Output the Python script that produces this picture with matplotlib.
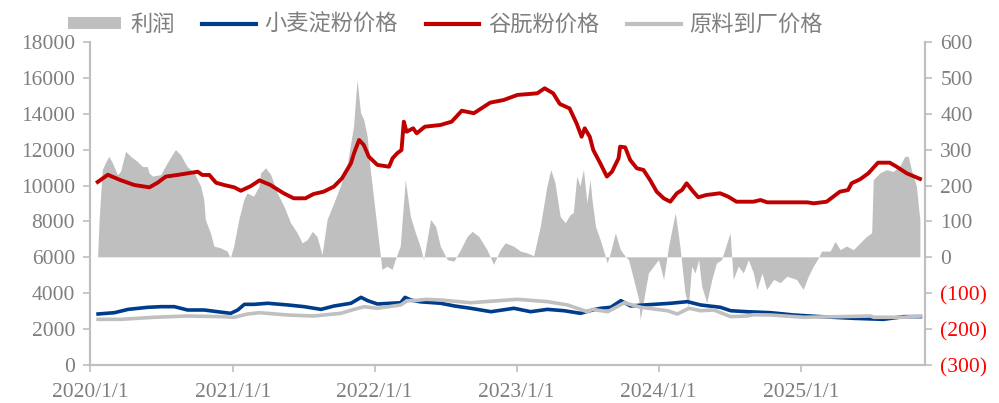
import pandas as pd
import matplotlib
matplotlib.use("Agg")
from matplotlib import pyplot as plt
from matplotlib.patches import Patch
from matplotlib.lines import Line2D

# 利润（右轴）
profit_dates = [
    "2020-01-21", "2020-01-25", "2020-02-02", "2020-02-10", "2020-02-19", "2020-02-28", "2020-03-12",
    "2020-03-20", "2020-04-02", "2020-04-15", "2020-05-02", "2020-05-15", "2020-05-28", "2020-06-01",
    "2020-06-10", "2020-07-01", "2020-07-18", "2020-08-08", "2020-08-21", "2020-09-07", "2020-09-25",
    "2020-10-12", "2020-10-20", "2020-10-24", "2020-11-06", "2020-11-15", "2020-12-02", "2020-12-19",
    "2020-12-27", "2021-01-05", "2021-01-18", "2021-01-31", "2021-02-08", "2021-02-25", "2021-03-11",
    "2021-03-15", "2021-03-28", "2021-04-10", "2021-04-27", "2021-05-14", "2021-05-31", "2021-06-17",
    "2021-06-30", "2021-07-13", "2021-07-26", "2021-08-07", "2021-08-20", "2021-09-02", "2021-09-19",
    "2021-10-06", "2021-10-23", "2021-11-09", "2021-11-18", "2021-11-27", "2021-12-05", "2021-12-14",
    "2021-12-22", "2021-12-31", "2022-01-13", "2022-01-21", "2022-02-03", "2022-02-16", "2022-02-24",
    "2022-03-09", "2022-03-22", "2022-04-04", "2022-04-17", "2022-04-29", "2022-05-08", "2022-05-26",
    "2022-06-08", "2022-06-20", "2022-07-08", "2022-07-25", "2022-08-11", "2022-08-28", "2022-09-10",
    "2022-09-27", "2022-10-18", "2022-11-04", "2022-11-21", "2022-12-04", "2022-12-25", "2023-01-12",
    "2023-01-29", "2023-02-15", "2023-03-04", "2023-03-21", "2023-03-31", "2023-04-11", "2023-04-24",
    "2023-05-07", "2023-05-20", "2023-05-28", "2023-06-06", "2023-06-14", "2023-06-23", "2023-07-02",
    "2023-07-10", "2023-07-15", "2023-07-24", "2023-08-05", "2023-08-18", "2023-08-23", "2023-08-31",
    "2023-09-13", "2023-09-26", "2023-10-08", "2023-10-17", "2023-10-30", "2023-11-12", "2023-11-16",
    "2023-11-25", "2023-12-07", "2023-12-20", "2024-01-02", "2024-01-15", "2024-01-28", "2024-02-14",
    "2024-02-26", "2024-03-10", "2024-03-19", "2024-03-27", "2024-04-05", "2024-04-14", "2024-04-22",
    "2024-05-05", "2024-05-18", "2024-05-30", "2024-06-12", "2024-07-04", "2024-07-12", "2024-07-25",
    "2024-08-07", "2024-08-20", "2024-09-02", "2024-09-11", "2024-09-24", "2024-10-06", "2024-10-24",
    "2024-11-10", "2024-11-27", "2024-12-22", "2025-01-08", "2025-01-21", "2025-02-03", "2025-02-16",
    "2025-02-24", "2025-03-18", "2025-03-31", "2025-04-13", "2025-04-29", "2025-05-17", "2025-06-03",
    "2025-06-20", "2025-07-03", "2025-07-07", "2025-07-24", "2025-08-10", "2025-08-27", "2025-09-13",
    "2025-09-26", "2025-10-05", "2025-10-13", "2025-10-26", "2025-11-01", "2025-11-04",
]
profit = [
    0, 104, 243, 262, 280, 262, 229,
    238, 294, 280, 266, 252, 251, 234,
    225, 229, 262, 299, 285, 252, 234,
    197, 160, 104, 67, 30, 25, 16,
    -3, 30, 104, 160, 178, 169, 197,
    234, 248, 229, 178, 141, 95, 67,
    39, 48, 71, 57, 6, 104, 150,
    197, 252, 364, 494, 401, 383, 336,
    243, 160, 39, -35, -26, -35, -8,
    30, 215, 113, 67, 30, -8, 104,
    85, 30, -8, -12, 20, 57, 71,
    57, 20, -21, 20, 39, 30, 16,
    11, 3, 85, 197, 243, 206, 113,
    95, 118, 123, 225, 197, 243, 150,
    215, 160, 85, 48, 2, -17, 11,
    67, 20, 2, -8, -63, -119, -175,
    -119, -45, -26, -8, -63, 30, 123,
    30, -100, -138, -26, -45, -8, -82,
    -128, -63, -17, -8, 67, -63, -26,
    -45, -8, -45, -91, -45, -91, -63,
    -72, -54, -63, -91, -54, -26, -3,
    16, 16, 43, 20, 30, 20, 39,
    57, 67, 215, 234, 243, 238, 252,
    280, 280, 243, 197, 132, 104,
]

# 谷朊粉价格
gluten_dates = [
    "2020-01-20", "2020-02-15", "2020-03-19", "2020-04-23", "2020-06-01", "2020-06-22", "2020-07-13",
    "2020-08-12", "2020-09-07", "2020-10-03", "2020-10-15", "2020-11-02", "2020-11-19", "2020-12-10",
    "2021-01-05", "2021-01-22", "2021-02-17", "2021-03-11", "2021-04-08", "2021-05-12", "2021-06-07",
    "2021-07-07", "2021-07-28", "2021-08-23", "2021-09-18", "2021-10-09", "2021-11-01", "2021-11-09",
    "2021-11-22", "2021-12-04", "2021-12-17", "2022-01-08", "2022-02-07", "2022-02-16", "2022-02-28",
    "2022-03-11", "2022-03-17", "2022-03-24", "2022-04-10", "2022-04-19", "2022-05-10", "2022-06-19",
    "2022-07-18", "2022-08-13", "2022-09-13", "2022-10-25", "2022-11-29", "2023-01-03", "2023-02-23",
    "2023-03-14", "2023-04-05", "2023-04-22", "2023-05-17", "2023-06-04", "2023-06-17", "2023-06-25",
    "2023-07-08", "2023-07-17", "2023-08-04", "2023-08-21", "2023-09-03", "2023-09-20", "2023-09-24",
    "2023-10-07", "2023-10-20", "2023-11-06", "2023-11-23", "2023-12-10", "2023-12-27", "2024-01-14",
    "2024-01-31", "2024-02-17", "2024-03-01", "2024-03-13", "2024-03-30", "2024-04-12", "2024-05-03",
    "2024-06-07", "2024-06-28", "2024-07-19", "2024-09-01", "2024-09-19", "2024-10-06", "2025-01-17",
    "2025-02-03", "2025-03-08", "2025-03-25", "2025-04-11", "2025-05-02", "2025-05-11", "2025-06-02",
    "2025-06-23", "2025-07-18", "2025-08-17", "2025-09-04", "2025-09-30", "2025-11-03",
]
gluten = [
    10200, 10600, 10300, 10030, 9900, 10160, 10500,
    10590, 10680, 10770, 10590, 10590, 10160, 10030,
    9900, 9710, 9975, 10290, 10030, 9570, 9290,
    9290, 9530, 9660, 9940, 10400, 11240, 11800,
    12540, 12260, 11610, 11150, 11050, 11520, 11800,
    11980, 13560, 13000, 13190, 12910, 13280, 13375,
    13560, 14170, 14030, 14620, 14770, 15050, 15140,
    15420, 15140, 14545, 14300, 13470, 12720, 13190,
    12720, 11980, 11240, 10500, 10770, 11520, 12165,
    12130, 11420, 10960, 10870, 10310, 9660, 9290,
    9100, 9570, 9750, 10125, 9660, 9345, 9475,
    9570, 9380, 9100, 9100, 9195, 9065, 9065,
    9010, 9100, 9380, 9660, 9750, 10125, 10350,
    10680, 11275, 11275, 11050, 10680, 10370,
]

# 小麦淀粉价格
starch_dates = [
    "2020-01-21", "2020-03-03", "2020-04-07", "2020-05-28", "2020-07-01", "2020-08-04", "2020-09-07",
    "2020-10-20", "2020-11-23", "2020-12-27", "2021-01-14", "2021-01-31", "2021-02-25", "2021-04-01",
    "2021-05-23", "2021-07-04", "2021-08-16", "2021-09-19", "2021-11-01", "2021-11-27", "2021-12-14",
    "2022-01-08", "2022-03-09", "2022-03-20", "2022-04-04", "2022-04-29", "2022-06-20", "2022-07-25",
    "2022-09-05", "2022-10-27", "2022-12-25", "2023-02-06", "2023-03-21", "2023-05-03", "2023-06-14",
    "2023-07-15", "2023-08-05", "2023-08-31", "2023-09-26", "2023-10-21", "2023-11-25", "2024-02-01",
    "2024-03-15", "2024-04-18", "2024-06-08", "2024-07-04", "2024-08-15", "2024-10-15", "2024-12-14",
    "2025-02-20", "2025-05-17", "2025-08-01", "2025-09-22", "2025-11-04",
]
starch = [
    2842, 2915, 3100, 3215, 3250, 3250, 3065,
    3065, 2970, 2880, 3065, 3380, 3380, 3440,
    3345, 3250, 3100, 3290, 3440, 3770, 3585,
    3400, 3470, 3770, 3620, 3520, 3440, 3290,
    3160, 2970, 3160, 2970, 3100, 3025, 2880,
    3065, 3160, 3215, 3585, 3290, 3345, 3440,
    3530, 3345, 3215, 3025, 2970, 2915, 2785,
    2695, 2600, 2545, 2695, 2695,
]

# 原料到厂价格
raw_dates = [
    "2020-01-21", "2020-03-20", "2020-06-14", "2020-09-07", "2020-12-02", "2021-01-05", "2021-02-08",
    "2021-03-11", "2021-05-23", "2021-07-28", "2021-10-06", "2021-11-09", "2021-12-05", "2022-01-08",
    "2022-03-09", "2022-03-26", "2022-04-12", "2022-05-13", "2022-06-20", "2022-09-05", "2023-01-03",
    "2023-03-21", "2023-05-12", "2023-06-14", "2023-07-01", "2023-07-15", "2023-08-23", "2023-10-05",
    "2023-11-16", "2024-01-24", "2024-02-18", "2024-03-19", "2024-04-18", "2024-05-22", "2024-07-04",
    "2024-08-15", "2024-09-01", "2024-10-15", "2025-01-08", "2025-04-13", "2025-06-29", "2025-07-07",
    "2025-09-22", "2025-11-04",
]
raw = [
    2545, 2545, 2660, 2730, 2695, 2660, 2840,
    2915, 2785, 2730, 2880, 3100, 3250, 3160,
    3345, 3585, 3585, 3660, 3620, 3470, 3660,
    3530, 3345, 3100, 2970, 3100, 2970, 3470,
    3215, 3025, 2840, 3160, 3025, 3065, 2695,
    2730, 2800, 2785, 2660, 2695, 2730, 2660,
    2660, 2730,
]

year_ticks = ["2020-01-01", "2021-01-01", "2022-01-01", "2023-01-01", "2024-01-01", "2025-01-01"]
year_labels = ["2020/1/1", "2021/1/1", "2022/1/1", "2023/1/1", "2024/1/1", "2025/1/1"]

grey_txt = "#7F7F7F"
axis_grey = "#BFBFBF"
num_font = "Liberation Serif"
cjk_font = ["Noto Sans CJK SC", "DejaVu Sans"]

fig = plt.figure(figsize=(9.99, 4.03), dpi=100)
ax1 = fig.add_axes([0.0904, 0.0943, 0.8356, 0.8015])
ax2 = ax1.twinx()

# 利润面积图放在右轴，画在线的下面
ax2.fill_between(pd.to_datetime(profit_dates), 0, profit, facecolor="#BFBFBF", linewidth=0)
ax2.set_ylim(-300, 600)
ax2.set_yticks(range(-300, 601, 100))
ax2.set_yticklabels([f"({abs(v)})" if v < 0 else str(v) for v in range(-300, 601, 100)])
for lab, v in zip(ax2.get_yticklabels(), range(-300, 601, 100)):
    lab.set_color("#FF0000" if v < 0 else grey_txt)
    lab.set_fontfamily(num_font)
    lab.set_fontsize(15.5)

ax1.plot(pd.to_datetime(starch_dates), starch, color="#003C8C", linewidth=2.6)
ax1.plot(pd.to_datetime(gluten_dates), gluten, color="#C00000", linewidth=2.8)
ax1.plot(pd.to_datetime(raw_dates), raw, color="#C0C0C0", linewidth=2.6)
ax1.set_zorder(ax2.get_zorder() + 1)
ax1.patch.set_visible(False)

ax1.set_ylim(0, 18000)
ax1.set_yticks(range(0, 18001, 2000))
ax1.set_xlim(pd.Timestamp("2020-01-01"), pd.Timestamp("2025-11-16"))
ax1.set_xticks(pd.to_datetime(year_ticks))
ax1.set_xticklabels(year_labels)

for lab in ax1.get_yticklabels() + ax1.get_xticklabels():
    lab.set_fontfamily(num_font)
    lab.set_fontsize(15.5)
    lab.set_color(grey_txt)

for ax in (ax1, ax2):
    ax.spines["top"].set_visible(False)
    for s in ("left", "right", "bottom"):
        ax.spines[s].set_color(axis_grey)
        ax.spines[s].set_linewidth(1.5)
    ax.tick_params(axis="both", which="both", color=axis_grey, width=1.2, length=5, direction="out")
ax1.tick_params(axis="y", pad=6)
ax2.tick_params(axis="y", pad=6)
ax1.tick_params(axis="x", pad=8)

handles = [
    Patch(facecolor="#BFBFBF", edgecolor="none"),
    Line2D([], [], color="#003C8C", linewidth=3),
    Line2D([], [], color="#C00000", linewidth=3),
    Line2D([], [], color="#C0C0C0", linewidth=3),
]
labels = ["利润", "小麦淀粉价格", "谷朊粉价格", "原料到厂价格"]
leg = fig.legend(handles, labels, loc="center left", bbox_to_anchor=(0.068, 1 - 24 / 403),
                 ncol=4, frameon=False, borderpad=0, borderaxespad=0, handlelength=2.4,
                 handleheight=0.45, handletextpad=0.4, columnspacing=1.25,
                 prop={"family": cjk_font, "size": 16})
for t in leg.get_texts():
    t.set_color(grey_txt)

plt.savefig("out.png", dpi=100)
